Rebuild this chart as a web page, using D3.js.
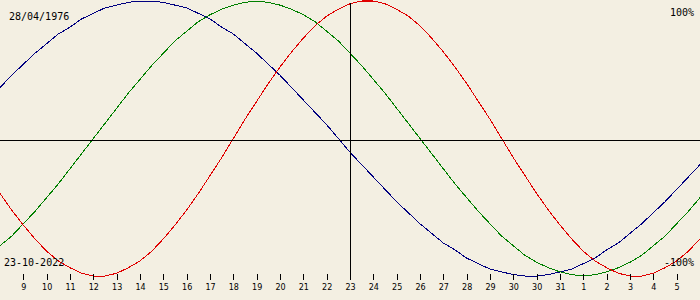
<!DOCTYPE html>
<meta charset="utf-8">
<style>
  body { margin: 0; background: #f3efe2; }
  svg { display: block; background: #f3efe2; }
  .curve { fill: none; stroke-width: 1; shape-rendering: crispEdges; }
  .rule { stroke: #000; stroke-width: 1; shape-rendering: crispEdges; }
  .label { font-family: "DejaVu Sans Mono", monospace; font-size: 10px; fill: #000; }
  .axis text { font-family: "DejaVu Sans", sans-serif; font-size: 8px; fill: #000; }
  .axis line { stroke: #000; shape-rendering: crispEdges; }
</style>

<svg id="chart" width="700" height="300"></svg>

<script src="https://d3js.org/d3.v7.min.js"></script>
<script>

  // day labels under the ticks (the original repeats 30)
  var dayLabels = ["9","10","11","12","13","14","15","16","17","18","19","20","21","22",
                   "23","24","25","26","27","28","29","30","30","31","1","2","3","4","5"];
  var birthDate = "28/04/1976";
  var chartDate = "23-10-2022";
  var todayTick = 15;   // position of "23"
  var step = 0.5;       // one point every half day

  // percent values, half-day apart, left edge to right edge
  var physical = [-40,-52,-63,-73,-82,-89,-94,-98,-100,-100,-98,-94,-89,-82,-73,-63,-52,-40,-27,-14,
                  0,14,27,40,52,63,73,82,89,94,98,100,100,98,94,89,82,73,63,52,40,27,14,
                  0,-14,-27,-40,-52,-63,-73,-82,-89,-94,-98,-100,-100,-98,-94,-89,-82,-73];
  var emotional = [-78,-71,-62,-53,-43,-33,-22,-11,0,11,22,33,43,53,62,71,78,85,90,94,97,99,100,
                   99,97,94,90,85,78,71,62,53,43,33,22,11,0,-11,-22,-33,-43,-53,-62,-71,-78,-85,
                   -90,-94,-97,-99,-100,-99,-97,-94,-90,-85,-78,-71,-62,-53,-43];
  var intellectual = [37,46,54,62,69,76,81,87,91,95,97,99,100,100,99,97,95,91,87,81,76,69,62,54,46,
                      37,28,19,10,0,-10,-19,-28,-37,-46,-54,-62,-69,-76,-81,-87,-91,-95,-97,-99,
                      -100,-100,-99,-97,-95,-91,-87,-81,-76,-69,-62,-54,-46,-37,-28,-19];

  var series = [
    { name: "intellectual", values: intellectual, color: "#000080" },
    { name: "emotional",    values: emotional,    color: "#008000" },
    { name: "physical",     values: physical,     color: "#e00000" }
  ];

  var svg = d3.select("#chart"),
      width = +svg.attr("width"),
      height = +svg.attr("height");

  var x = d3.scaleLinear().domain([0, dayLabels.length + 1]).range([0, width]);
  var y = d3.scaleLinear().domain([-100, 100]).range([276, 1]);
  var midY = 140.5;

  var line = d3.line()
      .x(function (d, i) { return x(i * step); })
      .y(function (d) { return y(d); });

  svg.append("g")
    .selectAll("path")
    .data(series)
    .enter().append("path")
      .attr("class", "curve")
      .attr("stroke", function (d) { return d.color; })
      .attr("d", function (d) { return line(d.values); });

  // zero line and today marker
  svg.append("line")
      .attr("class", "rule")
      .attr("x1", 0).attr("x2", width)
      .attr("y1", midY).attr("y2", midY);

  svg.append("line")
      .attr("class", "rule")
      .attr("x1", x(todayTick)).attr("x2", x(todayTick))
      .attr("y1", 3).attr("y2", 280);

  var axis = d3.axisBottom(x)
      .tickValues(d3.range(1, dayLabels.length + 1))
      .tickFormat(function (d, i) { return dayLabels[i]; })
      .tickSize(6)
      .tickPadding(4);

  var gx = svg.append("g")
      .attr("class", "axis")
      .attr("transform", "translate(0,274)")
      .call(axis);
  gx.select(".domain").remove();
  gx.selectAll("text").attr("font-family", null).attr("font-size", null);

  svg.append("text").attr("class", "label")
      .attr("x", 9).attr("y", 20).text(birthDate);
  svg.append("text").attr("class", "label")
      .attr("x", 694).attr("y", 16).attr("text-anchor", "end").text("100%");
  svg.append("text").attr("class", "label")
      .attr("x", 4).attr("y", 266).text(chartDate);
  svg.append("text").attr("class", "label")
      .attr("x", 694).attr("y", 266).attr("text-anchor", "end").text("-100%");

</script>
